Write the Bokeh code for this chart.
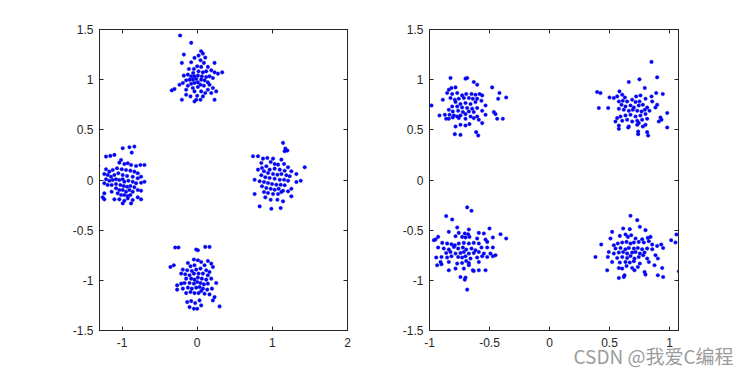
from bokeh.plotting import figure
from bokeh.layouts import row
from bokeh.models import FixedTicker, LinearAxis, Range1d, Title, CustomLabelingPolicy
from bokeh.embed import file_html
from bokeh.resources import INLINE

# ---------------- data ----------------
left_top = [(-0.227,1.44),(-0.08,1.367),(0.053,1.283),(0.076,1.26),(0.018,1.24),(-0.178,1.25),(-0.036,1.217),(0.107,1.22),(0.044,1.193),(-0.204,1.167),(-0.08,1.173),(0.089,1.167),(0.231,1.167),(0.0,1.133),(0.053,1.127),(-0.044,1.107),(-0.111,1.107),(0.142,1.127),(0.187,1.093),(0.231,1.073),(0.333,1.073),(0.276,1.06),(0.12,1.083),(0.076,1.073),(0.018,1.083),(-0.053,1.067),(-0.124,1.05),(-0.178,1.04),(-0.08,1.033),(-0.036,1.033),(0.009,1.04),(0.062,1.033),(0.12,1.027),(0.164,1.033),(0.209,1.017),(-0.013,1.007),(-0.058,1.0),(-0.102,1.0),(-0.147,0.993),(-0.191,0.967),(-0.236,0.95),(0.053,1.0),(0.098,0.993),(0.142,0.973),(0.009,0.973),(-0.036,0.967),(-0.08,0.96),(-0.124,0.94),(0.044,0.95),(0.089,0.94),(0.164,0.95),(0.209,0.917),(0.142,0.9),(0.009,0.927),(-0.058,0.917),(-0.147,0.9),(-0.302,0.907),(-0.338,0.893),(-0.036,0.883),(0.053,0.883),(0.107,0.867),(0.187,0.867),(0.253,0.883),(-0.147,0.85),(0.0,0.84),(0.076,0.833),(0.044,0.8),(-0.013,0.8),(-0.036,0.783),(-0.204,0.8),(0.231,0.8),(-0.089,0.833)]

left_left = [(-0.991,0.317),(-0.902,0.327),(-0.836,0.333),(-0.871,0.273),(-1.156,0.24),(-1.102,0.25),(-1.213,0.233),(-1.013,0.2),(-1.036,0.173),(-0.969,0.16),(-0.924,0.167),(-0.88,0.15),(-0.813,0.14),(-0.756,0.15),(-0.702,0.15),(-1.316,0.14),(-1.213,0.107),(-1.169,0.083),(-1.124,0.1),(-1.067,0.117),(-1.004,0.107),(-0.947,0.1),(-0.889,0.093),(-0.836,0.083),(-0.791,0.067),(-1.191,0.05),(-1.236,0.06),(-1.147,0.033),(-1.102,0.05),(-1.049,0.067),(-0.991,0.05),(-0.933,0.04),(-0.858,0.033),(-0.791,0.017),(-0.747,0.033),(-1.213,0.007),(-1.169,-0.007),(-1.124,0.0),(-1.08,0.007),(-1.036,0.0),(-0.991,0.007),(-0.969,-0.017),(-0.916,-0.007),(-0.858,-0.017),(-0.813,-0.033),(-0.747,-0.027),(-0.702,-0.017),(-1.236,-0.033),(-1.191,-0.05),(-1.138,-0.05),(-1.08,-0.04),(-1.022,-0.05),(-0.978,-0.06),(-0.933,-0.067),(-0.889,-0.06),(-0.836,-0.073),(-1.08,-0.083),(-1.036,-0.1),(-0.991,-0.1),(-0.947,-0.117),(-0.902,-0.1),(-0.858,-0.117),(-0.791,-0.1),(-0.747,-0.107),(-1.138,-0.117),(-1.236,-0.133),(-1.058,-0.133),(-1.013,-0.15),(-0.969,-0.15),(-0.924,-0.16),(-0.889,-0.15),(-1.258,-0.173),(-1.236,-0.193),(-1.102,-0.193),(-1.036,-0.193),(-0.969,-0.207),(-0.924,-0.183),(-0.858,-0.2),(-0.791,-0.173),(-0.747,-0.193),(-0.991,-0.233),(-0.88,-0.233)]

left_right = [(1.142,0.37),(1.173,0.313),(1.2,0.293),(1.164,0.287),(0.742,0.237),(0.809,0.237),(0.876,0.213),(0.933,0.22),(1.009,0.213),(1.12,0.203),(0.853,0.17),(0.978,0.18),(1.031,0.16),(1.076,0.153),(1.156,0.16),(1.209,0.127),(0.92,0.137),(0.862,0.12),(0.809,0.103),(0.964,0.103),(1.031,0.113),(1.098,0.103),(1.164,0.093),(1.253,0.087),(1.32,0.06),(1.431,0.127),(0.889,0.087),(0.942,0.07),(1.009,0.06),(1.067,0.053),(1.12,0.06),(1.187,0.047),(1.231,0.037),(0.853,0.047),(0.907,0.027),(0.964,0.02),(1.031,0.013),(1.098,0.003),(1.156,0.003),(1.209,-0.007),(1.378,-0.007),(1.32,-0.02),(0.764,0.003),(0.831,-0.013),(0.889,-0.02),(0.942,-0.03),(0.996,-0.04),(1.053,-0.047),(1.111,-0.047),(1.164,-0.053),(0.862,-0.063),(0.92,-0.08),(0.978,-0.087),(1.031,-0.097),(1.084,-0.087),(1.142,-0.107),(1.209,-0.113),(1.253,-0.087),(0.764,-0.14),(0.889,-0.12),(0.942,-0.13),(1.009,-0.14),(1.076,-0.14),(1.12,-0.12),(0.907,-0.173),(0.978,-0.197),(1.067,-0.197),(1.142,-0.213),(0.831,-0.263),(0.987,-0.287),(1.111,-0.28),(1.253,-0.163)]

left_bottom = [(-0.293,-0.673),(-0.249,-0.673),(-0.013,-0.693),(0.009,-0.7),(0.107,-0.667),(0.164,-0.667),(-0.356,-0.867),(-0.311,-0.85),(-0.124,-0.827),(-0.044,-0.793),(0.009,-0.8),(0.053,-0.817),(0.142,-0.807),(0.187,-0.833),(-0.089,-0.86),(-0.036,-0.85),(0.098,-0.85),(0.209,-0.867),(-0.191,-0.893),(-0.133,-0.9),(-0.071,-0.907),(-0.013,-0.893),(0.044,-0.883),(0.12,-0.9),(0.164,-0.917),(-0.213,-0.933),(-0.16,-0.94),(-0.102,-0.95),(-0.044,-0.933),(0.018,-0.933),(0.076,-0.933),(0.142,-0.95),(-0.147,-0.983),(-0.08,-0.983),(-0.036,-0.993),(0.009,-0.973),(0.062,-0.983),(0.12,-0.993),(0.187,-0.983),(0.253,-1.027),(-0.267,-1.05),(-0.213,-1.033),(-0.169,-1.027),(-0.102,-1.027),(-0.044,-1.033),(0.0,-1.017),(0.044,-1.027),(0.089,-1.04),(0.142,-1.033),(-0.267,-1.093),(-0.191,-1.083),(-0.124,-1.073),(-0.071,-1.083),(-0.013,-1.073),(0.031,-1.067),(0.076,-1.083),(0.133,-1.093),(0.196,-1.083),(-0.147,-1.127),(-0.089,-1.117),(-0.036,-1.127),(0.018,-1.127),(0.053,-1.107),(0.098,-1.133),(0.164,-1.14),(0.231,-1.167),(0.209,-1.2),(-0.133,-1.217),(-0.08,-1.207),(-0.027,-1.227),(0.031,-1.2),(-0.102,-1.267),(-0.044,-1.283),(0.0,-1.283),(0.053,-1.25),(0.298,-1.26)]

right_tl = [(-1.011,0.757),(-0.983,0.743),(-0.825,1.017),(-0.7,1.01),(-0.686,1.017),(-0.631,0.977),(-0.603,0.95),(-0.478,0.923),(-0.417,0.867),(-0.361,0.823),(-0.428,0.81),(-0.889,0.8),(-0.839,0.9),(-0.817,0.917),(-0.783,0.923),(-0.853,0.867),(-0.811,0.857),(-0.769,0.867),(-0.728,0.843),(-0.694,0.857),(-0.65,0.857),(-0.617,0.85),(-0.583,0.857),(-0.561,0.843),(-0.825,0.817),(-0.789,0.8),(-0.756,0.81),(-0.714,0.817),(-0.672,0.817),(-0.639,0.81),(-0.603,0.81),(-0.783,0.777),(-0.742,0.757),(-0.7,0.767),(-0.658,0.757),(-0.617,0.777),(-0.567,0.79),(-0.533,0.743),(-0.811,0.733),(-0.769,0.733),(-0.728,0.723),(-0.686,0.717),(-0.644,0.71),(-0.603,0.717),(-0.839,0.7),(-0.806,0.683),(-0.761,0.69),(-0.722,0.677),(-0.672,0.683),(-0.631,0.677),(-0.561,0.69),(-0.464,0.677),(-0.917,0.643),(-0.872,0.65),(-0.833,0.65),(-0.797,0.643),(-0.769,0.633),(-0.742,0.643),(-0.7,0.657),(-0.658,0.633),(-0.603,0.633),(-0.533,0.65),(-0.45,0.657),(-0.389,0.61),(-0.436,0.61),(-0.839,0.61),(-0.806,0.623),(-0.756,0.617),(-0.7,0.61),(-0.631,0.617),(-0.589,0.6),(-0.783,0.533),(-0.742,0.55),(-0.7,0.543),(-0.667,0.557),(-0.561,0.567),(-0.789,0.457),(-0.742,0.45),(-0.611,0.477),(-0.594,0.443),(-0.861,0.61)]

right_tr = [(0.85,1.177),(0.897,1.023),(0.661,0.977),(0.75,1.003),(0.794,0.917),(0.397,0.877),(0.425,0.867),(0.583,0.883),(0.5,0.823),(0.536,0.817),(0.564,0.833),(0.606,0.85),(0.628,0.823),(0.722,0.833),(0.758,0.843),(0.889,0.867),(0.944,0.857),(0.85,0.833),(0.411,0.717),(0.489,0.717),(0.578,0.783),(0.611,0.79),(0.647,0.783),(0.689,0.8),(0.717,0.777),(0.75,0.783),(0.8,0.81),(0.856,0.783),(0.897,0.75),(0.6,0.75),(0.633,0.733),(0.675,0.743),(0.703,0.723),(0.744,0.743),(0.778,0.75),(0.814,0.723),(0.883,0.723),(0.578,0.71),(0.619,0.7),(0.661,0.69),(0.694,0.7),(0.731,0.69),(0.767,0.683),(0.794,0.7),(0.833,0.69),(0.981,0.667),(0.592,0.633),(0.633,0.643),(0.675,0.65),(0.717,0.633),(0.758,0.643),(0.8,0.657),(0.925,0.623),(0.564,0.617),(0.606,0.59),(0.647,0.6),(0.689,0.583),(0.731,0.59),(0.772,0.6),(0.814,0.61),(0.55,0.583),(0.578,0.543),(0.661,0.533),(0.744,0.567),(0.8,0.55),(0.578,0.51),(0.656,0.523),(0.731,0.55),(0.778,0.533),(0.739,0.483),(0.739,0.457),(0.814,0.477),(0.822,0.443),(0.911,0.583),(0.981,0.523),(0.933,0.6)]

right_bl = [(-0.686,-0.273),(-0.65,-0.307),(-0.861,-0.36),(-0.811,-0.393),(-0.769,-0.473),(-0.672,-0.493),(-0.5,-0.483),(-0.408,-0.54),(-0.361,-0.583),(-0.964,-0.6),(-0.928,-0.567),(-0.95,-0.593),(-0.839,-0.517),(-0.756,-0.527),(-0.706,-0.533),(-0.678,-0.54),(-0.589,-0.527),(-0.547,-0.533),(-0.783,-0.56),(-0.728,-0.567),(-0.7,-0.573),(-0.667,-0.567),(-0.603,-0.583),(-0.533,-0.593),(-0.472,-0.573),(-0.894,-0.627),(-0.853,-0.633),(-0.817,-0.64),(-0.789,-0.65),(-0.756,-0.633),(-0.714,-0.627),(-0.672,-0.633),(-0.631,-0.627),(-0.589,-0.633),(-0.519,-0.617),(-0.928,-0.673),(-0.881,-0.683),(-0.839,-0.693),(-0.797,-0.667),(-0.761,-0.683),(-0.722,-0.673),(-0.694,-0.693),(-0.65,-0.683),(-0.617,-0.7),(-0.567,-0.673),(-0.519,-0.673),(-0.472,-0.673),(-0.861,-0.727),(-0.825,-0.717),(-0.783,-0.733),(-0.742,-0.727),(-0.714,-0.717),(-0.672,-0.733),(-0.631,-0.727),(-0.589,-0.717),(-0.547,-0.733),(-0.492,-0.733),(-0.45,-0.75),(-0.944,-0.773),(-0.9,-0.767),(-0.853,-0.773),(-0.817,-0.76),(-0.761,-0.767),(-0.728,-0.773),(-0.7,-0.76),(-0.658,-0.783),(-0.603,-0.773),(-0.561,-0.76),(-0.519,-0.767),(-0.472,-0.76),(-0.908,-0.817),(-0.839,-0.817),(-0.769,-0.833),(-0.728,-0.827),(-0.694,-0.807),(-0.672,-0.827),(-0.589,-0.817),(-0.936,-0.85),(-0.9,-0.84),(-0.672,-0.85),(-0.839,-0.9),(-0.783,-0.883),(-0.714,-0.883),(-0.639,-0.9),(-0.589,-0.9),(-0.533,-0.9),(-0.742,-0.967),(-0.7,-0.973),(-0.706,-0.993),(-0.686,-1.093),(-0.631,-0.907)]

right_br = [(0.675,-0.357),(0.731,-0.4),(0.614,-0.483),(0.669,-0.49),(0.753,-0.467),(0.8,-0.5),(0.522,-0.517),(0.508,-0.583),(0.586,-0.557),(0.633,-0.543),(0.653,-0.567),(0.681,-0.55),(0.717,-0.583),(0.772,-0.59),(0.819,-0.577),(0.842,-0.567),(1.014,-0.6),(1.05,-0.623),(1.058,-0.543),(0.431,-0.643),(0.536,-0.65),(0.569,-0.633),(0.606,-0.623),(0.642,-0.617),(0.675,-0.633),(0.703,-0.623),(0.744,-0.617),(0.786,-0.623),(0.828,-0.61),(0.856,-0.643),(0.897,-0.657),(0.931,-0.643),(0.947,-0.677),(0.55,-0.683),(0.592,-0.677),(0.633,-0.69),(0.661,-0.677),(0.703,-0.683),(0.736,-0.677),(0.772,-0.69),(0.814,-0.683),(0.856,-0.69),(0.494,-0.717),(0.536,-0.733),(0.578,-0.723),(0.614,-0.717),(0.647,-0.733),(0.689,-0.723),(0.717,-0.717),(0.753,-0.733),(0.792,-0.723),(0.883,-0.75),(0.383,-0.767),(0.486,-0.767),(0.564,-0.777),(0.606,-0.767),(0.647,-0.777),(0.675,-0.757),(0.708,-0.783),(0.744,-0.767),(0.781,-0.75),(0.814,-0.783),(0.903,-0.783),(0.522,-0.817),(0.586,-0.823),(0.633,-0.817),(0.669,-0.823),(0.703,-0.81),(0.753,-0.833),(0.828,-0.817),(0.875,-0.85),(0.578,-0.877),(0.642,-0.857),(0.689,-0.877),(0.736,-0.867),(0.939,-0.877),(0.481,-0.9),(0.606,-0.883),(0.708,-0.9),(0.792,-0.917),(0.625,-0.95),(0.619,-0.967),(0.578,-0.977),(0.8,-0.943),(0.903,-0.95),(0.947,-0.967),(1.078,-0.91)]

left_xticks = [-1, 0, 1, 2]
left_xlabels = ["-1", "0", "1", "2"]
right_xticks = [-1, -0.5, 0, 0.5, 1]
right_xlabels = ["-1", "-0.5", "0", "0.5", "1"]
yticks = [-1.5, -1, -0.5, 0, 0.5, 1, 1.5]
ylabels = ["-1.5", "-1", "-0.5", "0", "0.5", "1", "1.5"]
watermark = "CSDN @我爱C编程"

AX = "#262626"
FONT = "Liberation Sans"

NO_LABELS = CustomLabelingPolicy(code="""
const out = [];
for (const i of indices) { out.push(i); }
for (const i of out) { indices.unset(i); }
return indices;
""")


def style_axis(ax, ticks, labels, show_labels):
    ax.ticker = FixedTicker(ticks=ticks)
    ax.major_label_overrides = {t: l for t, l in zip(ticks, labels)}
    ax.minor_tick_line_color = None
    ax.major_tick_in = 4
    ax.major_tick_out = 0
    ax.major_tick_line_color = AX
    ax.axis_line_color = AX
    ax.major_label_text_font = FONT
    ax.major_label_text_color = AX
    ax.major_label_text_font_size = "12px"
    if not show_labels:
        ax.major_label_policy = NO_LABELS
        ax.major_label_standoff = 0


def make_fig(clusters, xr, xticks, xlabels, mb_left, mb_right, mb_bottom):
    p = figure(width=375, height=372, x_range=Range1d(*xr), y_range=Range1d(-1.5, 1.5),
               output_backend="svg", toolbar_location=None,
               min_border_left=mb_left, min_border_right=mb_right,
               min_border_top=29, min_border_bottom=mb_bottom)
    p.grid.visible = False
    p.outline_line_color = AX
    p.background_fill_color = "white"
    p.border_fill_color = "white"
    style_axis(p.xaxis[0], xticks, xlabels, True)
    style_axis(p.yaxis[0], yticks, ylabels, True)
    p.xaxis[0].major_label_standoff = 7
    p.yaxis[0].major_label_standoff = 6
    top = LinearAxis()
    right = LinearAxis()
    style_axis(top, xticks, xlabels, False)
    style_axis(right, yticks, ylabels, False)
    p.add_layout(top, "above")
    p.add_layout(right, "right")
    for c in clusters:
        xs = [pt[0] for pt in c]
        ys = [pt[1] for pt in c]
        p.scatter(xs, ys, size=3.6, fill_color="#0000ff", line_color="#1a1ad0", line_width=0.4)
    return p


p1 = make_fig([left_top, left_left, left_right, left_bottom], (-1.3, 2.0),
              left_xticks, left_xlabels, 99, 28, 42)
p2 = make_fig([right_tl, right_tr, right_bl, right_br], (-1.0, 1.075),
              right_xticks, right_xlabels, 54, 72, 42)

p2.add_layout(Title(text=watermark, align="left", offset=144, standoff=-19,
                    text_font="Noto Sans CJK SC", text_font_size="19px",
                    text_font_style="normal", text_color="#9c9c9c"), "below")

layout = row(p1, p2)
open("out.html", "w").write(file_html(layout, INLINE))
